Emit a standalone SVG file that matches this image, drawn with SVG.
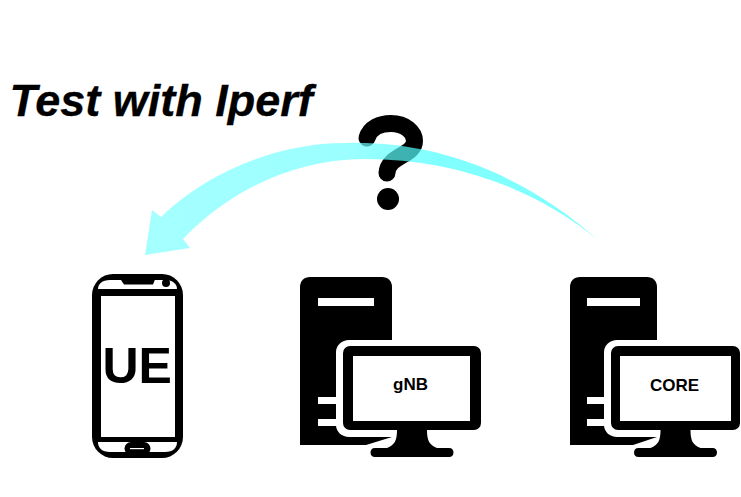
<svg xmlns="http://www.w3.org/2000/svg" width="741" height="497" viewBox="0 0 741 497">
  <style>
    text { font-family: "Liberation Sans", Arial, sans-serif; font-weight: bold; fill: #000; }
    .w { fill: #fff; }
    .k { fill: #000; }
  </style>
  <defs>
    <linearGradient id="ar" gradientUnits="userSpaceOnUse" x1="145" y1="200" x2="595" y2="200">
      <stop offset="0" stop-color="#7fffff" stop-opacity="0.7"/>
      <stop offset="0.45" stop-color="#70ffff" stop-opacity="0.7"/>
      <stop offset="0.65" stop-color="#4affff" stop-opacity="0.7"/>
      <stop offset="1" stop-color="#4affff" stop-opacity="0.7"/>
    </linearGradient>
    <path id="stand" class="k" d="M-15 0C-15 10 -17 15 -25 18H-37C-40 18 -41.500 20 -41.500 22.500C-41.500 25 -40 27 -37 27H37C40 27 41.500 25 41.500 22.500C41.500 20 40 18 37 18H25C17 15 15 10 15 0Z"/>
  </defs>

  <g id="title">
    <text x="9.500" y="116" font-size="45" font-style="italic" stroke="#000" stroke-width="0.300">Test with Iperf</text>
  </g>

  <g id="question">
    <path d="M367 138C370 128 380 123.500 391 123.500C405 123.500 414.500 132 414.500 141C414.500 156 388 155 387 173" fill="none" stroke="#000" stroke-width="17" stroke-linecap="round"/>
    <circle cx="388" cy="199" r="11" class="k"/>
  </g>

  <g id="connectors">
    <path fill="url(#ar)" d="M145 255L152 210L161 217C205 174 275 143 345 143C445 140 532 181 598 240C532 186 450 159 365 159C295 159 230 190 183 239L190 248Z"/>
  </g>

  <g id="ue">
    <rect x="92" y="274" width="91" height="184" rx="21" class="k"/>
    <path class="w" d="M98 289C98 284 102 280 110 280H165C173 280 177 284 177 289Z"/>
    <rect x="101" y="296" width="74" height="141" class="w"/>
    <path class="w" d="M98 442H177C177 448 173 452 165 452H110C102 452 98 448 98 442Z"/>
    <path class="k" d="M119 277H156L153 284.500H124Z"/>
    <circle cx="166" cy="283" r="4" class="k"/>
    <rect x="124.500" y="442" width="26" height="13" rx="6.500" class="k"/>
    <rect x="130" y="448" width="14" height="1.200" class="w"/>
    <text x="102.500" y="383" font-size="50">UE</text>
  </g>

  <g id="gnb">
    <path class="k" d="M300 445V287C300 281 304 277 310 277H382C388 277 392 281 392 287V437L366 445Z"/>
    <rect x="318" y="298" width="56" height="8" class="w"/>
    <rect x="318" y="397" width="20" height="7" class="w"/>
    <rect x="318" y="419" width="20" height="7" class="w"/>
    <path class="w" d="M336 352C336 345 342 340 349 340H400V437H349C342 437 336 432 336 425Z"/>
    <rect x="343" y="346" width="138" height="84" rx="7" class="k"/>
    <rect x="353" y="356" width="117" height="65" class="w"/>
    <use href="#stand" x="412" y="430"/>
    <text x="393" y="390" font-size="17">gNB</text>
  </g>

  <g id="core">
    <path class="k" d="M570 445V287C570 281 574 277 580 277H647C653 277 657 281 657 287V437L633 445Z"/>
    <rect x="587" y="298" width="53" height="8" class="w"/>
    <rect x="587" y="397" width="20" height="7" class="w"/>
    <rect x="587" y="419" width="20" height="7" class="w"/>
    <path class="w" d="M604 352C604 345 610 340 617 340H665V437H617C610 437 604 432 604 425Z"/>
    <rect x="611" y="346" width="129" height="84" rx="7" class="k"/>
    <rect x="620" y="356" width="111" height="65" class="w"/>
    <use href="#stand" x="675.500" y="430"/>
    <text x="650" y="391" font-size="17">CORE</text>
  </g>
</svg>
